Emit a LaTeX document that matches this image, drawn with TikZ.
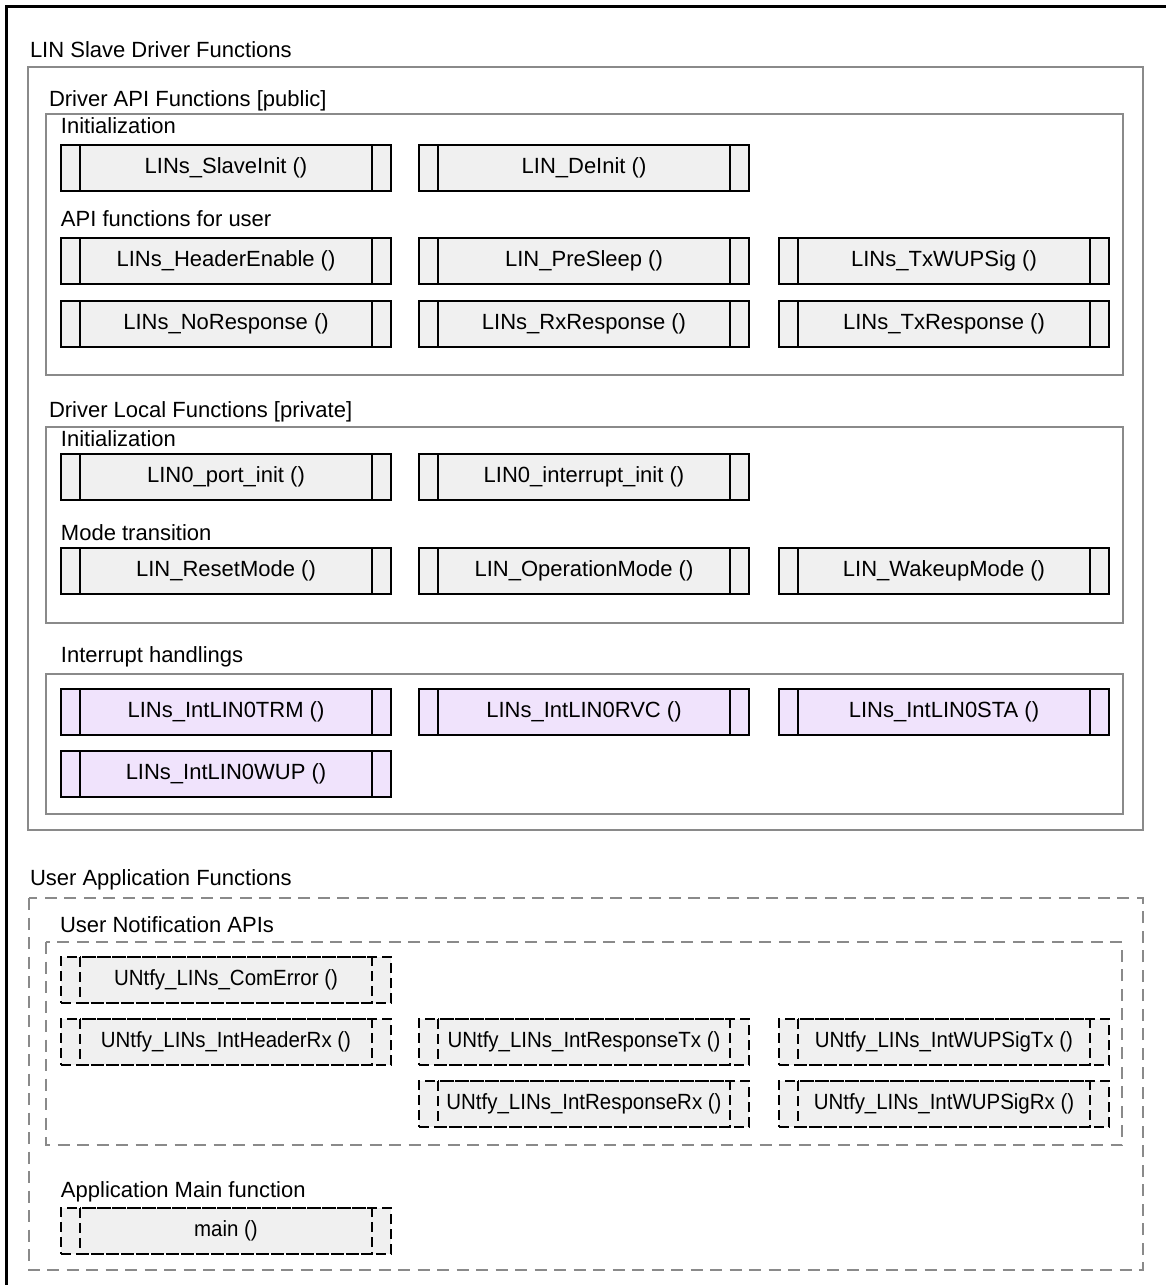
\documentclass[tikz,border=0pt]{standalone}
\usepackage{fontspec}
\setmainfont{Liberation Sans}
\newfontfamily\narrowsans[FakeStretch=0.93]{Liberation Sans}
\definecolor{fngray}{RGB}{240,240,240}
\definecolor{isrlilac}{RGB}{240,227,252}
\definecolor{grpgray}{RGB}{138,138,138}

\begin{document}
\begin{tikzpicture}[x=0.5pt,y=-0.5pt,
  every node/.style={inner sep=0pt, outer sep=0pt, font=\fontsize{11}{13}\selectfont},
  grptitle/.style={anchor=base west},
  group/.style={draw=grpgray, line width=0.75pt},
  usergroup/.style={group, dash pattern=on 6pt off 3.75pt},
  cbdash/.style={draw=black, line width=0.6pt, dash pattern=on 5pt off 2.5pt},
  fnbox/.style={draw=black, line width=0.6pt, fill=fngray, anchor=north west,
    minimum width=165pt, minimum height=23pt,
    path picture={\draw[line width=0.6pt]
      ([xshift=9.5pt]path picture bounding box.north west) -- ([xshift=9.5pt]path picture bounding box.south west)
      ([xshift=-9.5pt]path picture bounding box.north east) -- ([xshift=-9.5pt]path picture bounding box.south east);}},
  isrbox/.style={fnbox, fill=isrlilac},
  cbbox/.style={cbdash, fill=fngray, anchor=north west,
    minimum width=165pt, minimum height=23pt, font=\narrowsans\fontsize{11}{13}\selectfont}
]
\useasboundingbox (0,0) rectangle (1166,1285);
\draw[line width=1.5pt] (6.5,6) rectangle (1220,1330);

% driver side
\node[grptitle] (drvtitle) at (30,57) {LIN Slave Driver Functions};
\draw[group] (28,67) rectangle (1143,830);

\node[grptitle] (apititle) at (49,106) {Driver API Functions [public]};
\draw[group] (46,114) rectangle (1123,375);
\node[grptitle] (apiinit) at (61,133) {Initialization};
\node[fnbox] (slaveinit) at (61,145) {LINs\_SlaveInit ()};
\node[fnbox] (deinit) at (419,145) {LIN\_DeInit ()};
\node[grptitle] (apiuser) at (61,226) {API functions for user};
\node[fnbox] (hdrenable) at (61,238) {LINs\_HeaderEnable ()};
\node[fnbox] (presleep) at (419,238) {LIN\_PreSleep ()};
\node[fnbox] (txwup) at (779,238) {LINs\_TxWUPSig ()};
\node[fnbox] (noresp) at (61,301) {LINs\_NoResponse ()};
\node[fnbox] (rxresp) at (419,301) {LINs\_RxResponse ()};
\node[fnbox] (txresp) at (779,301) {LINs\_TxResponse ()};

\node[grptitle] (loctitle) at (49,417) {Driver Local Functions [private]};
\draw[group] (46,427) rectangle (1123,623);
\node[grptitle] (locinit) at (61,446) {Initialization};
\node[fnbox] (portinit) at (61,454) {LIN0\_port\_init ()};
\node[fnbox] (intinit) at (419,454) {LIN0\_interrupt\_init ()};
\node[grptitle] (modetr) at (61,540) {Mode transition};
\node[fnbox] (resetmode) at (61,548) {LIN\_ResetMode ()};
\node[fnbox] (opmode) at (419,548) {LIN\_OperationMode ()};
\node[fnbox] (wakemode) at (779,548) {LIN\_WakeupMode ()};

\node[grptitle] (isrtitle) at (61,662) {Interrupt handlings};
\draw[group] (46,674) rectangle (1123,814);
\node[isrbox] (inttrm) at (61,689) {LINs\_IntLIN0TRM ()};
\node[isrbox] (intrvc) at (419,689) {LINs\_IntLIN0RVC ()};
\node[isrbox] (intsta) at (779,689) {LINs\_IntLIN0STA ()};
\node[isrbox] (intwup) at (61,751) {LINs\_IntLIN0WUP ()};

% user side
\node[grptitle] (usrtitle) at (30,885) {User Application Functions};
\draw[usergroup] (29,898) rectangle (1143,1270);

\node[grptitle] (ntftitle) at (60,932) {User Notification APIs};
\draw[usergroup] (46,942) rectangle (1122,1145);
\node[cbbox] (comerr) at (61,957) {UNtfy\_LINs\_ComError ()};
\node[cbbox] (hdrrx) at (61,1019) {UNtfy\_LINs\_IntHeaderRx ()};
\node[cbbox] (resptx) at (419,1019) {UNtfy\_LINs\_IntResponseTx ()};
\node[cbbox] (wuptx) at (779,1019) {UNtfy\_LINs\_IntWUPSigTx ()};
\node[cbbox] (resprx) at (419,1081) {UNtfy\_LINs\_IntResponseRx ()};
\node[cbbox] (wuprx) at (779,1081) {UNtfy\_LINs\_IntWUPSigRx ()};

\node[grptitle] (maintitle) at (61,1197) {Application Main function};
\node[cbbox] (mainfn) at (61,1208) {main ()};

% inner frame of the callback boxes
\foreach \cb in {comerr,hdrrx,resptx,wuptx,resprx,wuprx,mainfn}
  \draw[cbdash] ([xshift=9.5pt]\cb.north west) rectangle ([xshift=-9.5pt]\cb.south east);
\end{tikzpicture}
\end{document}
